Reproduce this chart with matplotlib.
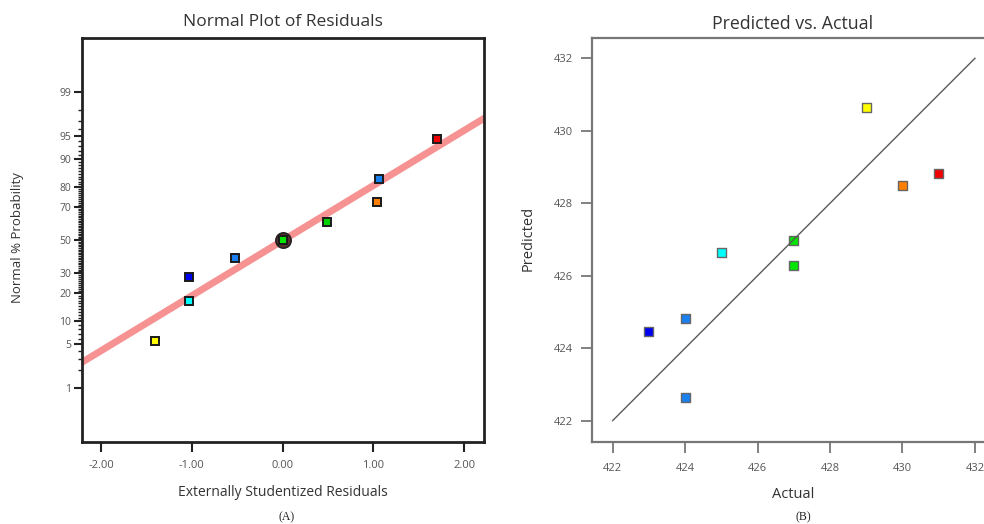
import matplotlib
matplotlib.use('Agg')
import matplotlib.pyplot as plt
from statistics import NormalDist

# ---- data: (A) normal plot of residuals ----
resid = [-1.41, -1.03, -1.03, -0.53, 0.00, 0.49, 1.04, 1.06, 1.70]
prob_pct = [5.6, 16.7, 27.9, 39.0, 50.0, 61.0, 72.5, 83.0, 94.4]
resid_colors = ['#FFFF00', '#00FFFF', '#0000F0', '#1A80F0', '#00E600',
                '#00D200', '#FF8000', '#1A80F0', '#F00000']
circled = [4]  # point drawn with a ring (repeated value)
fit_resid = [-2.25, 2.25]
fit_pct = [2.5, 97.4]
prob_ticks = [1, 5, 10, 20, 30, 50, 70, 80, 90, 95, 99]

# ---- data: (B) predicted vs actual ----
actual = [423, 424, 424, 425, 427, 427, 429, 430, 431]
predicted = [424.47, 424.81, 422.64, 426.64, 426.97, 426.29, 430.64, 428.49, 428.82]
pa_colors = ['#0000F0', '#1A80F0', '#1A80F0', '#00FFFF', '#00E600',
             '#00E600', '#FFFF00', '#FF8000', '#F00000']
diag = [422, 432]
pa_ticks = [422, 424, 426, 428, 430, 432]

plt.rcParams['font.family'] = ['Open Sans', 'DejaVu Sans']

W, H = 984, 524
fig = plt.figure(figsize=(W / 100, H / 100), dpi=100)


def fx(px):
    return px / W


def fy(py):
    return 1 - py / H


nd = NormalDist()


def z(p):
    return nd.inv_cdf(p / 100.0)


# ======================= panel A =======================
axA = fig.add_axes([fx(82), fy(442), fx(484) - fx(82), fy(38) - fy(442)])
axA.set_xlim(-2.21, 2.217)
axA.set_ylim(-3.18, 3.18)

axA.plot(fit_resid, [z(p) for p in fit_pct], color='#F58686', lw=5,
         alpha=0.9, solid_capstyle='butt', zorder=2)
for i in circled:
    axA.plot(resid[i], z(prob_pct[i]), 'o', ms=11, mfc='#5A2E2E',
             mec='#222222', mew=1.2, zorder=3)
for r, p, c in zip(resid, prob_pct, resid_colors):
    axA.plot(r, z(p), 's', ms=6.0, mfc=c, mec='#1A1A1A', mew=1.4, zorder=4)

for s in axA.spines.values():
    s.set_linewidth(2.0)
    s.set_color('#222222')

axA.set_xticks([-2, -1, 0, 1, 2])
axA.set_xticklabels(['-2.00', '-1.00', '0.00', '1.00', '2.00'])
axA.set_yticks([z(p) for p in prob_ticks])
axA.set_yticklabels([str(p) for p in prob_ticks])
axA.set_yticks([z(p) for p in range(1, 100) if p not in prob_ticks], minor=True)
axA.tick_params(axis='x', length=7, width=1.5, color='#222222', labelsize=8,
                labelcolor='#555555', pad=6)
axA.tick_params(axis='y', which='major', length=6, width=1.5, color='#222222',
                labelsize=7.5, labelcolor='#555555', pad=2)
axA.tick_params(axis='y', which='minor', length=3, width=1.0, color='#222222')

fig.text(fx(283), fy(22), 'Normal Plot of Residuals', ha='center', va='center',
         fontsize=12.5, color='#333333')
fig.text(fx(283), fy(492), 'Externally Studentized Residuals', ha='center',
         va='center', fontsize=10, color='#333333')
fig.text(fx(18), fy(238), 'Normal % Probability', ha='center', va='center',
         rotation=90, fontsize=9.5, color='#333333')
fig.text(fx(287), fy(517), '(A)', ha='center', va='center', fontsize=8.5,
         family='Liberation Serif', color='#222222')

# ======================= panel B =======================
x0, x1 = 421.43, 432.6
axB = fig.add_axes([fx(592), fy(442), (x1 - x0) * 36.23 / W, fy(38) - fy(442)])
axB.set_xlim(x0, x1)
axB.set_ylim(421.41, 432.56)

axB.scatter(actual, predicted, marker='s', s=44, c=pa_colors,
            edgecolors='#666666', linewidths=1.0, zorder=3)
axB.plot(diag, diag, color='#5A5A5A', lw=1.0, zorder=4)

for s in axB.spines.values():
    s.set_linewidth(1.6)
    s.set_color('#777777')

axB.set_xticks(pa_ticks)
axB.set_yticks(pa_ticks)
axB.tick_params(length=8, width=1.3, color='#777777', labelsize=8,
                labelcolor='#555555')
axB.tick_params(axis='x', pad=7)
axB.tick_params(axis='y', pad=6)

fig.text(fx(793), fy(24), 'Predicted vs. Actual', ha='center', va='center',
         fontsize=12.8, color='#333333')
fig.text(fx(793), fy(494), 'Actual', ha='center', va='center', fontsize=10.5,
         color='#333333')
fig.text(fx(528), fy(238), 'Predicted', ha='center', va='center', rotation=90,
         fontsize=10.5, color='#333333')
fig.text(fx(803), fy(517), '(B)', ha='center', va='center', fontsize=8.5,
         family='Liberation Serif', color='#222222')

fig.savefig('out.png', dpi=100)
